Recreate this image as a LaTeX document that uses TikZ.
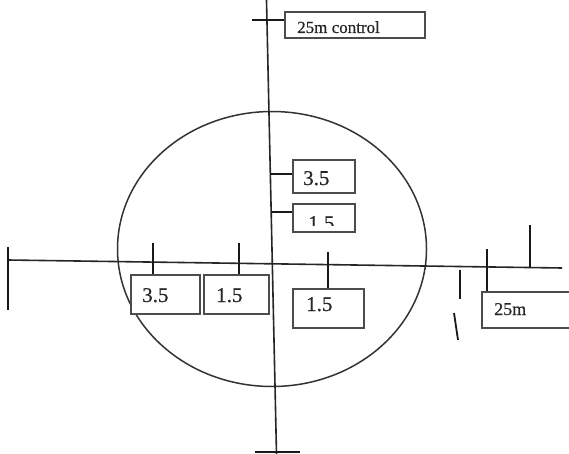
\documentclass[tikz,border=0pt]{standalone}
\usepackage{fontspec}
\setmainfont{Liberation Serif}[FakeBold=0.6]
\usetikzlibrary{shapes.geometric}
\tikzset{
  mainline/.style={line width=1.6pt, draw=black!85},
  tickline/.style={line width=2.2pt, draw=black!90},
  box/.style={draw=black!70, line width=1.6pt, inner sep=0pt, anchor=north west, fill=white},
  lbl/.style={anchor=base west, inner sep=0pt, font=\fontsize{21}{21}\selectfont, text=black!85},
  smalllbl/.style={anchor=base west, inner sep=0pt, font=\fontsize{17}{17}\selectfont, text=black!85},
}
\begin{document}
\begin{tikzpicture}[x=1pt,y=-1pt]
\useasboundingbox (0,0) rectangle (569,454);
\fill[white] (0,0) rectangle (569,454);
% ellipse
\node[draw=black!80, line width=1.5pt, ellipse, minimum width=309, minimum height=275, inner sep=0pt] (circ) at (272,249) {};
% axes
\coordinate (vt) at (266.5,0);
\coordinate (vb) at (276.5,454);
\coordinate (hl) at (8,260);
\coordinate (hr) at (562,268);
\draw[mainline] (vt) -- (vb);
\draw[mainline] (hl) -- (hr);
% axis end ticks
\coordinate (lt1) at (8,247); \coordinate (lt2) at (8,310);
\draw[tickline] (lt1) -- (lt2);
\coordinate (bt1) at (255,452); \coordinate (bt2) at (300,452);
\draw[tickline] (bt1) -- (bt2);
% boxes
\node[box, minimum width=140, minimum height=26] (ctrl) at (284,11) {};
\node[smalllbl] (ctrlt) at (297,33) {25m control};
\node[box, minimum width=62, minimum height=33] (a35) at (292,159) {};
\node[lbl] (a35t) at (303,185) {3.5};
\node[box, minimum width=62, minimum height=28] (a15) at (292,203) {};
\begin{scope}
\clip (292,203) rectangle (354,225);
\node[lbl] (a15t) at (308,230) {1.5};
\end{scope}
\draw[draw=black!70, line width=1.6pt] (a15.south west) -- (a15.south east);
\node[box, minimum width=69, minimum height=39] (b35) at (130,274) {};
\node[lbl] (b35t) at (142,302) {3.5};
\node[box, minimum width=65, minimum height=39] (b15) at (203,274) {};
\node[lbl] (b15t) at (216,302) {1.5};
\node[box, minimum width=71, minimum height=39] (c15) at (292,288) {};
\node[lbl] (c15t) at (306,311) {1.5};
\node[box, minimum width=94, minimum height=36] (d25) at (481,291) {};
\node[smalllbl, font=\fontsize{18}{18}\selectfont] (d25t) at (494,315) {25m};
% ticks
\coordinate (t0) at (252,20);
\draw[tickline] (t0) -- (ctrl.west |- t0);
\coordinate (t1) at (270.4,174);
\draw[tickline] (t1) -- (a35.west |- t1);
\coordinate (t2) at (271.2,212);
\draw[tickline] (t2) -- (a15.west |- t2);
\coordinate (t3) at (153,243);
\draw[tickline] (t3) -- (t3 |- b35.north);
\coordinate (t4) at (239,243);
\draw[tickline] (t4) -- (t4 |- b15.north);
\coordinate (t5) at (328,252);
\draw[tickline] (t5) -- (t5 |- c15.north);
\coordinate (t6) at (487,249);
\draw[tickline] (t6) -- (t6 |- d25.north);
\coordinate (t7a) at (530,225); \coordinate (t7b) at (530,268);
\draw[tickline] (t7a) -- (t7b);
\coordinate (t8a) at (460,270); \coordinate (t8b) at (460,299);
\draw[tickline] (t8a) -- (t8b);
\coordinate (t9a) at (454,313); \coordinate (t9b) at (458,340);
\draw[tickline, line width=1.8pt] (t9a) -- (t9b);
\end{tikzpicture}
\end{document}
